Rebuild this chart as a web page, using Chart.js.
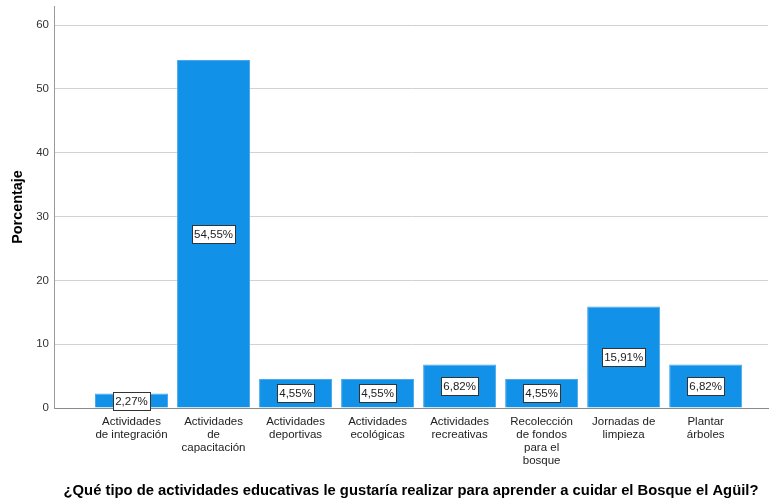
<!DOCTYPE html>
<html>
<head>
<meta charset="utf-8">
<script src="https://cdn.jsdelivr.net/npm/chart.js@4"></script>
<style>
  html, body { margin: 0; padding: 0; background: #fff; }
  #wrap { width: 770px; height: 498px; }
</style>
</head>
<body>
<div id="wrap"><canvas id="barChart" width="770" height="498"></canvas></div>
<script>
const categories = [
    ["Actividades", "de integración"],
    ["Actividades", "de", "capacitación"],
    ["Actividades", "deportivas"],
    ["Actividades", "ecológicas"],
    ["Actividades", "recreativas"],
    ["Recolección", "de fondos", "para el", "bosque"],
    ["Jornadas de", "limpieza"],
    ["Plantar", "árboles"]
];
const percentages = [2.27, 54.55, 4.55, 4.55, 6.82, 4.55, 15.91, 6.82];
const yTicks = [0, 10, 20, 30, 40, 50, 60];

const FONT = "'Liberation Sans', Arial, sans-serif";

function fmt(v) {
    return v.toFixed(2).replace(".", ",") + "%";
}

// boxed percentage labels in the middle of each bar
const pctLabels = {
    id: "pctLabels",
    afterDatasetsDraw(chart) {
        const ctx = chart.ctx;
        const meta = chart.getDatasetMeta(0);
        ctx.save();
        ctx.font = "11.5px " + FONT;
        ctx.textAlign = "center";
        ctx.textBaseline = "middle";
        meta.data.forEach((bar, i) => {
            const text = fmt(percentages[i]);
            const cy = (bar.y + bar.base) / 2;
            const w = Math.round(ctx.measureText(text).width + 4);
            const h = 18;
            const x0 = Math.round(bar.x - w / 2) + 0.5;
            const y0 = Math.round(cy - h / 2) + 0.5;
            ctx.fillStyle = "#fff";
            ctx.fillRect(x0, y0, w, h);
            ctx.strokeStyle = "#333";
            ctx.lineWidth = 1;
            ctx.strokeRect(x0, y0, w, h);
            ctx.fillStyle = "#222";
            ctx.fillText(text, bar.x, cy + 1);
        });
        ctx.restore();
    }
};

new Chart(document.getElementById("barChart"), {
    type: "bar",
    data: {
        datasets: [{
            data: percentages.map((v, i) => ({ x: i, y: v })),
            backgroundColor: "#1192e8",
            borderColor: "#4aa8ec",
            borderWidth: 1,
            categoryPercentage: 1,
            barPercentage: 0.89
        }]
    },
    options: {
        responsive: false,
        animation: false,
        layout: { padding: { left: 0, right: 2, top: 6, bottom: 0 } },
        plugins: {
            legend: { display: false },
            tooltip: { enabled: false }
        },
        scales: {
            x: {
                type: "linear",
                offset: false,
                min: -0.945,
                max: 7.76,
                grid: { display: false, drawTicks: false, offset: false },
                border: { display: true, color: "#8a8a8a" },
                ticks: {
                    stepSize: 1,
                    includeBounds: false,
                    autoSkip: false,
                    maxRotation: 0,
                    padding: 7,
                    color: "#222",
                    font: { family: FONT, size: 11.5, lineHeight: 1.14 },
                    callback: v => (Number.isInteger(v) && categories[v]) ? categories[v] : ""
                },
                title: {
                    display: true,
                    text: "¿Qué tipo de actividades educativas le gustaría realizar para aprender a cuidar el Bosque el Agüil?",
                    color: "#000",
                    font: { family: FONT, size: 14.8, weight: "bold", lineHeight: 1.0 },
                    padding: { top: 0, bottom: 0 }
                },
                afterFit(scale) { scale.height = 90; }
            },
            y: {
                min: 0,
                max: 63,
                grid: { color: "#d2d2d2", lineWidth: 1, drawTicks: false },
                border: { display: true, color: "#9a9a9a" },
                ticks: {
                    stepSize: 10,
                    includeBounds: false,
                    padding: 5,
                    color: "#333",
                    font: { family: FONT, size: 11.5 },
                    callback: v => yTicks.includes(v) ? v : ""
                },
                title: {
                    display: true,
                    text: "Porcentaje",
                    color: "#000",
                    font: { family: FONT, size: 14.4, weight: "bold", lineHeight: 1.2 },
                    padding: { top: 9, bottom: 0 }
                },
                afterFit(scale) {
                    scale.width = 54;
                    scale.paddingTop = 0;
                    scale.paddingBottom = 0;
                }
            }
        }
    },
    plugins: [pctLabels]
});
</script>
</body>
</html>
